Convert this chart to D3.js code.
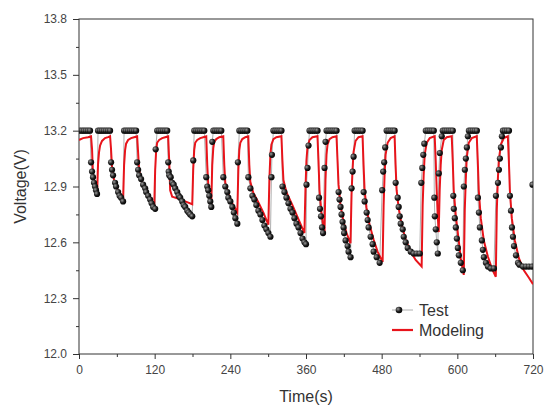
<!DOCTYPE html>
<html><head><meta charset="utf-8">
<script src="https://cdn.jsdelivr.net/npm/d3@7/dist/d3.min.js"></script>
<style>body{margin:0;background:#fff}svg{display:block;font-family:"Liberation Sans",Arial,sans-serif}</style>
</head><body><svg id="c" width="548" height="408"></svg>
<script>
const xTicks = [0,120,240,360,480,600,720];
const xMinor = [60,180,300,420,540,660];
const yTicks = [12.0,12.3,12.6,12.9,13.2,13.5,13.8];
const yMinor = [12.15,12.45,12.75,13.05,13.35,13.65];
const seriesNames = ["Test","Modeling"];

// Test: [time (s), voltage (V)]
const testData = [
[1.6,13.2],[4.8,13.2],[7.9,13.2],[11.1,13.2],[14.3,13.2],[17.5,13.2],
[19.1,13.03],[20.7,12.98],[22.2,12.95],[23.8,12.92],[25.4,12.90],[27.0,12.88],[28.6,12.86],
[30.2,13.2],[33.4,13.2],[36.5,13.2],[39.7,13.2],[42.9,13.2],[46.1,13.2],[49.3,13.2],
[50.9,13.03],[52.4,12.99],[54.0,12.96],[57.2,12.92],[58.8,12.90],[62.0,12.87],[64.4,12.85],[66.8,12.84],[69.9,12.82],
[71.5,13.2],[74.7,13.2],[77.9,13.2],[81.1,13.2],[84.2,13.2],[87.4,13.2],[90.6,13.2],
[92.2,13.03],[93.8,12.99],[95.4,12.96],[98.5,12.94],[101.7,12.91],[104.9,12.89],[106.5,12.87],[109.7,12.85],[112.8,12.83],[115.2,12.81],[117.6,12.79],[120.8,12.78],
[121.6,13.10],
[124.0,13.2],[127.2,13.2],[130.3,13.2],[133.5,13.2],[136.7,13.2],[139.9,13.2],
[141.5,13.03],[142.3,12.98],[143.1,12.96],[145.4,12.95],[147.8,12.92],[150.2,12.91],[152.6,12.89],[155.8,12.87],[158.1,12.85],[160.5,12.84],[163.7,12.82],[166.1,12.80],[168.5,12.79],[171.7,12.77],[174.0,12.76],[176.4,12.75],[179.6,12.74],
[181.2,13.04],
[182.8,13.2],[186.0,13.2],[189.1,13.2],[192.3,13.2],[195.5,13.2],[198.7,13.2],
[201.8,12.95],[203.4,12.90],[205.0,12.88],[206.6,12.85],[208.2,12.82],[209.8,12.79],
[211.4,13.14],
[213.0,13.2],[216.2,13.2],[219.3,13.2],[222.5,13.2],[225.7,13.2],
[228.9,12.95],[232.0,12.90],[235.2,12.87],[236.8,12.84],[240.0,12.82],[243.2,12.79],[245.6,12.76],[248.0,12.73],[251.1,12.70],
[252.0,13.03],
[254.3,13.2],[257.5,13.2],[260.7,13.2],[263.9,13.2],[267.0,13.2],
[268.6,12.95],[271.8,12.89],[275.0,12.85],[278.1,12.83],[281.3,12.80],[284.5,12.77],[287.7,12.75],[290.9,12.72],[294.0,12.69],[297.2,12.67],[300.4,12.65],[303.6,12.63],
[305.2,12.95],[306.0,13.07],
[308.3,13.2],[311.5,13.2],[314.7,13.2],[317.9,13.2],[321.1,13.2],
[322.7,12.90],[325.8,12.87],[329.0,12.84],[332.2,12.81],[335.4,12.78],[338.6,12.76],[341.7,12.73],[344.9,12.70],[348.1,12.68],[351.3,12.65],[354.5,12.62],[357.6,12.60],[360.0,12.59],
[360.8,12.91],[362.4,13.00],[364.0,13.12],
[365.6,13.2],[368.8,13.2],[371.9,13.2],[375.1,13.2],[378.3,13.2],
[380.7,12.84],[382.2,12.78],[383.8,12.74],[385.4,12.68],[387.0,12.65],
[389.4,13.00],[391.0,13.14],
[392.6,13.2],[395.8,13.2],[399.0,13.2],[402.1,13.2],[405.3,13.2],[408.5,13.2],
[411.7,12.87],[413.2,12.83],[414.8,12.79],[416.4,12.75],[418.0,12.71],[419.6,12.68],[420.4,12.65],[422.8,12.61],[426.0,12.58],[427.5,12.55],[430.7,12.52],
[432.3,12.89],[433.9,12.98],[435.5,13.06],
[437.1,13.2],[440.3,13.2],[443.4,13.2],[446.6,13.2],[449.8,13.2],
[451.4,12.87],[453.0,12.82],[456.2,12.76],[457.8,12.72],[459.3,12.68],[462.5,12.63],[465.7,12.59],[467.3,12.55],[472.1,12.52],[476.8,12.49],
[480.8,12.88],[482.4,12.98],[484.0,13.03],[485.6,13.11],
[487.9,13.2],[491.1,13.2],[494.3,13.2],[497.5,13.2],[500.6,13.2],
[502.2,12.92],[505.4,12.84],[507.0,12.79],[508.6,12.74],[510.2,12.70],[513.4,12.67],[515.0,12.63],[518.1,12.60],[521.3,12.57],[526.1,12.55],[530.9,12.54],[535.6,12.54],[540.4,12.54],
[542.8,12.92],[544.4,13.00],[546.0,13.07],[547.6,13.13],
[550.0,13.2],[553.2,13.2],[556.4,13.2],[559.5,13.2],[562.7,13.2],
[563.5,12.84],[564.3,12.74],[565.8,12.67],[567.4,12.60],[569.0,12.54],
[570.6,12.97],[572.2,13.08],[575.3,13.17],
[576.9,13.2],[580.1,13.2],[583.3,13.2],[586.5,13.2],[589.6,13.2],[592.8,13.2],
[593.6,12.85],[594.4,12.78],[596.0,12.73],[597.6,12.68],[599.2,12.62],[600.8,12.57],[602.4,12.53],[605.5,12.49],[608.7,12.45],
[610.3,12.90],[611.9,12.99],[613.5,13.05],[615.1,13.11],[616.7,13.17],
[618.3,13.2],[621.4,13.2],[624.6,13.2],[627.8,13.2],[631.0,13.2],
[632.6,12.84],[634.2,12.76],[635.7,12.68],[638.9,12.61],[640.5,12.56],[642.1,12.52],[645.3,12.49],[648.5,12.47],[653.2,12.46],[658.0,12.46],
[661.2,12.85],[664.4,12.92],[666.0,12.99],[667.5,13.05],[669.1,13.11],[670.7,13.17],
[672.3,13.2],[675.5,13.2],[678.7,13.2],[681.9,13.2],
[683.4,12.85],[685.0,12.77],[686.6,12.68],[688.2,12.63],[689.8,12.58],[693.0,12.53],[696.2,12.49],[698.5,12.48],[704.1,12.47],[708.8,12.47],[713.6,12.47],[718.4,12.47],
[719.2,12.91]
];

// Modeling: [time (s), voltage (V)]
const modelData = [
[0,13.15],[6.4,13.16],[14.3,13.165],[19.1,13.17],
[20.7,13.10],[22.2,12.96],[25.4,12.89],[28.6,12.845],
[30.2,13.02],[31.8,13.085],[33.4,13.12],[36.5,13.145],[41.3,13.16],[46.1,13.165],[49.3,13.17],
[50.8,13.10],[52.4,13.0],[55.6,12.935],[60.4,12.89],[65.1,12.855],[69.9,12.815],
[71.5,13.015],[73.1,13.095],[74.7,13.13],[77.9,13.15],[82.6,13.16],[87.4,13.165],[92.2,13.17],
[93.7,13.085],[95.3,12.99],[98.5,12.935],[104.9,12.88],[112.8,12.83],[119.2,12.775],
[120.8,12.99],[122.4,13.095],[123.9,13.135],[127.1,13.15],[131.9,13.16],[136.7,13.165],[141.4,13.17],
[143.0,13.04],[144.6,12.88],[147.8,12.845],[157.3,12.835],[168.4,12.82],[179.6,12.805],
[181.1,12.99],[182.7,13.095],[184.3,13.135],[187.5,13.15],[192.3,13.16],[197.1,13.165],[201.8,13.17],
[203.4,13.015],[205.0,12.91],[206.6,12.85],[209.7,12.795],
[211.3,13.015],[212.9,13.105],[214.5,13.14],[217.7,13.155],[222.5,13.165],[228.8,13.17],
[230.4,13.015],[232.0,12.92],[236.8,12.86],[243.1,12.81],[251.1,12.76],
[252.7,12.99],[254.2,13.095],[255.8,13.135],[259.0,13.155],[263.8,13.165],[268.5,13.17],
[270.1,13.015],[271.7,12.925],[276.5,12.865],[284.4,12.815],[292.4,12.76],[300.3,12.695],
[301.9,12.935],[303.5,13.07],[305.1,13.125],[308.3,13.155],[313.0,13.165],[321.0,13.17],
[322.6,13.04],[324.2,12.935],[328.9,12.87],[338.5,12.80],[348.0,12.725],[357.5,12.65],
[359.1,12.88],[360.7,13.04],[362.3,13.11],[365.5,13.15],[370.2,13.165],[378.2,13.17],
[379.8,13.04],[381.4,12.88],[384.5,12.76],[389.3,12.64],
[390.9,12.935],[392.5,13.07],[394.1,13.125],[397.3,13.155],[402.0,13.165],[408.4,13.17],
[410.0,13.04],[411.6,12.91],[414.7,12.80],[419.5,12.71],[424.3,12.65],[430.6,12.595],
[432.2,12.855],[433.8,12.99],[435.4,13.085],[438.6,13.145],[443.3,13.165],[449.7,13.17],
[451.3,13.015],[452.9,12.88],[456.0,12.785],[460.8,12.695],[467.2,12.615],[473.5,12.55],[481.5,12.495],
[483.1,12.80],[484.6,12.96],[486.2,13.07],[489.4,13.135],[494.2,13.16],[500.5,13.17],
[502.1,13.015],[503.7,12.88],[506.9,12.785],[511.7,12.695],[518.0,12.615],[526.0,12.55],[533.9,12.505],[543.4,12.47],
[545.0,12.80],[546.6,12.96],[548.2,13.07],[551.4,13.135],[556.2,13.16],[564.1,13.17],
[565.7,13.04],[567.3,12.88],[568.9,12.745],[570.5,12.655],
[572.0,12.88],[573.6,13.015],[575.2,13.095],[578.4,13.15],[583.2,13.165],[591.1,13.17],
[592.7,13.04],[594.3,12.88],[597.5,12.745],[602.2,12.61],[605.4,12.515],[610.2,12.425],
[611.8,12.775],[613.4,12.935],[614.9,13.055],[618.1,13.135],[622.9,13.16],[630.8,13.17],
[632.4,13.04],[634.0,12.88],[637.2,12.73],[642.0,12.61],[648.3,12.525],[654.7,12.46],[661.0,12.415],
[662.6,12.775],[664.2,12.935],[665.8,13.04],[669.0,13.125],[673.7,13.16],[680.1,13.17],
[681.7,13.04],[683.3,12.88],[686.4,12.73],[691.2,12.61],[697.6,12.515],[705.5,12.45],[713.5,12.41],[720,12.375]
];

const svg = d3.select("#c");
const L = 79, R = 533, T = 19, B = 354;
const x = d3.scaleLinear().domain([0,720]).range([L,R]);
const y = d3.scaleLinear().domain([12.0,13.8]).range([B,T]);

const defs = svg.append("defs");
const g = defs.append("radialGradient").attr("id","ball").attr("cx","35%").attr("cy","35%").attr("r","70%");
g.append("stop").attr("offset","0%").attr("stop-color","#9a9a9a");
g.append("stop").attr("offset","55%").attr("stop-color","#1e1e1e");
g.append("stop").attr("offset","100%").attr("stop-color","#000");
defs.append("clipPath").attr("id","clip").append("rect").attr("x",L).attr("y",T).attr("width",R-L).attr("height",B-T);

// axes
const axisColor = "#333";
const xa = svg.append("g").attr("transform",`translate(0,${B})`)
  .call(d3.axisBottom(x).tickValues(xTicks).tickSize(5).tickSizeOuter(0).tickPadding(6).tickFormat(d3.format("d")));
const xm = svg.append("g").attr("transform",`translate(0,${B})`)
  .call(d3.axisBottom(x).tickValues(xMinor).tickSize(3).tickSizeOuter(0).tickFormat(""));
const ya = svg.append("g").attr("transform",`translate(${L},0)`)
  .call(d3.axisLeft(y).tickValues(yTicks).tickSize(6).tickSizeOuter(0).tickPadding(6).tickFormat(d3.format(".1f")));
const ym = svg.append("g").attr("transform",`translate(${L},0)`)
  .call(d3.axisLeft(y).tickValues(yMinor).tickSize(3).tickSizeOuter(0).tickFormat(""));
[xa,xm,ya,ym].forEach(a=>{
  a.select(".domain").remove();
  a.selectAll("line").attr("stroke",axisColor);
  a.selectAll("text").attr("fill","#444").style("font-size","12px").style("font-family",'"Liberation Sans",Arial,sans-serif');
});
svg.append("rect").attr("x",L).attr("y",T).attr("width",R-L).attr("height",B-T)
  .attr("fill","none").attr("stroke",axisColor).attr("stroke-width",1);

// titles
svg.append("text").attr("x",(L+R)/2).attr("y",402).attr("text-anchor","middle")
  .attr("fill","#333").style("font-size","16px").text("Time(s)");
svg.append("text").attr("transform",`translate(26,${(T+B)/2}) rotate(-90)`).attr("text-anchor","middle")
  .attr("fill","#333").style("font-size","16px").text("Voltage(V)");

const plot = svg.append("g").attr("clip-path","url(#clip)");
const line = d3.line().x(d=>x(d[0])).y(d=>y(d[1]));
plot.append("path").datum(testData).attr("d",line).attr("fill","none").attr("stroke","#9a9a9a").attr("stroke-width",0.8);
plot.append("path").datum(modelData).attr("d",line).attr("fill","none").attr("stroke","#e8141b").attr("stroke-width",2);
plot.selectAll("circle").data(testData).join("circle")
  .attr("cx",d=>x(d[0])).attr("cy",d=>y(d[1])).attr("r",3.1).attr("fill","url(#ball)");

// legend
const lg = svg.append("g");
lg.append("line").attr("x1",392).attr("x2",413).attr("y1",310).attr("y2",310).attr("stroke","#9a9a9a").attr("stroke-width",0.8);
lg.append("circle").attr("cx",399).attr("cy",310).attr("r",3.3).attr("fill","url(#ball)");
lg.append("text").attr("x",419).attr("y",316).attr("fill","#333").style("font-size","16px").text(seriesNames[0]);
lg.append("line").attr("x1",392).attr("x2",413).attr("y1",330).attr("y2",330).attr("stroke","#e8141b").attr("stroke-width",2.2);
lg.append("text").attr("x",419).attr("y",336).attr("fill","#333").style("font-size","16px").text(seriesNames[1]);
</script></body></html>
